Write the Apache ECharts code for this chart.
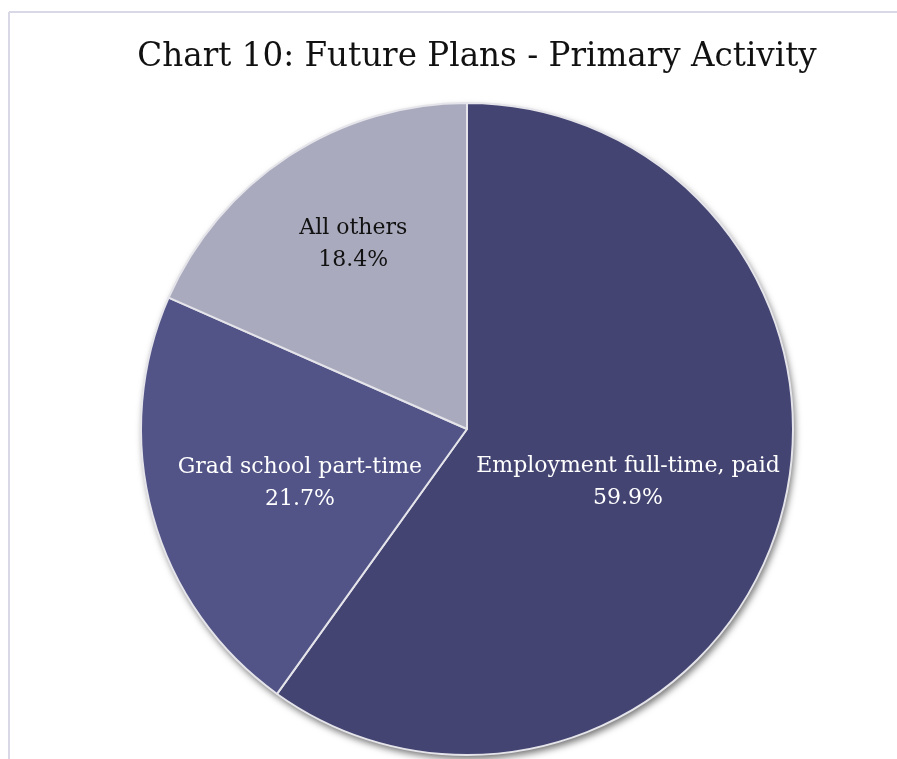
<!DOCTYPE html>
<html>
<head>
<meta charset="utf-8">
<title>Chart 10: Future Plans - Primary Activity</title>
<script src="https://cdn.jsdelivr.net/npm/echarts@6/dist/echarts.min.js"></script>
<style>
  html, body { margin: 0; padding: 0; background: #ffffff; }
  #chart { width: 897px; height: 759px; }
</style>
</head>
<body>
<div id="chart"></div>
<script>
// Primary activity after graduation, share of respondents (%)
const categories = ['Employment full-time, paid', 'Grad school part-time', 'All others'];
const shares = [59.9, 21.7, 18.4];
const sliceColors = ['#434471', '#525487', '#a9aabd'];
const labelColors = ['#ffffff', '#ffffff', '#111111'];
// nudges from the default inside-label spot, per slice
const labelOffsets = [[3, 2], [-7, 10], [-23, -46]];

const chart = echarts.init(document.getElementById('chart'), null, { renderer: 'canvas' });

const slabFont = '"DejaVu Serif", serif';
const pieCenter = [467, 429];
const pieRadius = [0, 326];

const pieData = categories.map((name, i) => ({
  name: name,
  value: shares[i],
  itemStyle: { color: sliceColors[i] },
  label: { color: labelColors[i], offset: labelOffsets[i] }
}));

chart.setOption({
  animation: false,
  backgroundColor: '#ffffff',
  title: {
    text: 'Chart 10: Future Plans - Primary Activity',
    left: 472,
    top: 36,
    textAlign: 'center',
    textStyle: {
      fontFamily: slabFont,
      fontSize: 32.6,
      fontWeight: 'normal',
      color: '#111111'
    }
  },
  graphic: [
    { type: 'line', shape: { x1: 9, y1: 12, x2: 897, y2: 12 }, style: { stroke: '#d9d8e6', lineWidth: 2 } },
    { type: 'line', shape: { x1: 9, y1: 12, x2: 9, y2: 759 }, style: { stroke: '#d9d8e6', lineWidth: 2 } }
  ],
  series: [
    {
      // drop shadow under the whole disc
      type: 'pie',
      silent: true,
      center: pieCenter,
      radius: pieRadius,
      startAngle: 90,
      clockwise: true,
      label: { show: false },
      labelLine: { show: false },
      itemStyle: {
        borderWidth: 0,
        shadowBlur: 7,
        shadowOffsetX: 2,
        shadowOffsetY: 4,
        shadowColor: 'rgba(0,0,0,0.55)'
      },
      data: categories.map((name, i) => ({ name: name, value: shares[i], itemStyle: { color: sliceColors[i] } }))
    },
    {
      type: 'pie',
      center: pieCenter,
      radius: pieRadius,
      startAngle: 90,
      clockwise: true,
      avoidLabelOverlap: false,
      itemStyle: {
        borderColor: '#e4e4ea',
        borderWidth: 2
      },
      label: {
        show: true,
        position: 'inside',
        fontFamily: slabFont,
        fontSize: 22,
        lineHeight: 32,
        align: 'center',
        formatter: p => p.name + '\n' + p.value.toFixed(1) + '%'
      },
      labelLine: { show: false },
      emphasis: { disabled: true },
      data: pieData
    }
  ]
});
</script>
</body>
</html>
